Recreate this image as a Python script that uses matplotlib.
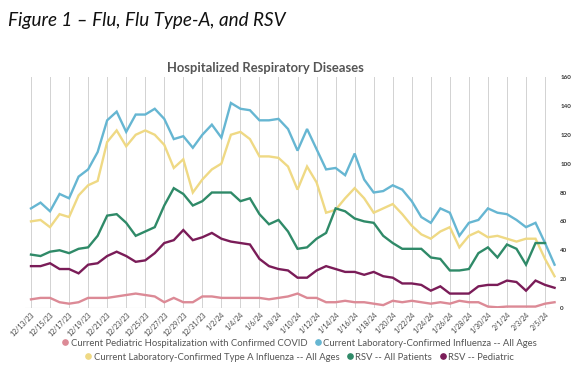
import numpy as np
import matplotlib
matplotlib.use("Agg")
import matplotlib.pyplot as plt
from matplotlib.lines import Line2D

# 데이터 (12/13/23 ~ 2/6/24, 일별)
covid_ped = [6, 7, 7, 4, 3, 4, 7, 7, 7, 8, 9, 10, 9, 8, 4, 7, 4, 4, 8, 8,
             7, 7, 7, 7, 7, 6, 7, 8, 10, 7, 7, 4, 4, 5, 4, 4, 3, 2, 5, 4,
             5, 4, 3, 4, 3, 5, 4, 4, 1, 0.5, 1, 1, 1, 1, 3, 4]
flu_all = [69, 73, 67, 79, 76, 91, 96, 108, 130, 136, 122, 134, 134, 138, 131, 117, 119, 111, 120, 127,
           118, 142, 138, 137, 130, 130, 131, 124, 109, 124, 110, 96, 97, 92, 107, 89, 80, 81, 85, 82,
           74, 63, 59, 69, 66, 50, 59, 61, 69, 66, 65, 61, 56, 59, 45, 30]
flu_a = [60, 61, 56, 65, 63, 78, 85, 88, 115, 123, 112, 120, 123, 120, 113, 97, 103, 80, 89, 96,
         100, 120, 122, 117, 105, 105, 104, 98, 82, 98, 87, 66, 68, 76, 83, 76, 66, 69, 72, 65,
         57, 51, 48, 53, 56, 42, 50, 53, 49, 50, 48, 46, 48, 48, 34, 22]
rsv_all = [37, 36, 39, 40, 38, 41, 42, 50, 64, 65, 59, 50, 53, 56, 71, 83, 79, 71, 74, 80,
           80, 80, 74, 76, 65, 58, 61, 53, 41, 42, 48, 52, 69, 67, 62, 60, 59, 50, 45, 41,
           41, 41, 35, 34, 26, 26, 27, 38, 42, 35, 44, 41, 30, 45, 45, np.nan]
rsv_ped = [29, 29, 31, 27, 27, 24, 30, 31, 36, 39, 36, 32, 33, 38, 45, 47, 54, 47, 49, 52,
           48, 46, 45, 44, 34, 29, 27, 26, 21, 21, 26, 29, 27, 25, 25, 23, 25, 22, 21, 17,
           17, 16, 12, 15, 10, 10, 10, 15, 16, 16, 19, 18, 12, 19, 16, 14]

tick_labels = ["12/13/23", "12/15/23", "12/17/23", "12/19/23", "12/21/23", "12/23/23", "12/25/23",
               "12/27/23", "12/29/23", "12/31/23", "1/2/24", "1/4/24", "1/6/24", "1/8/24",
               "1/10/24", "1/12/24", "1/14/24", "1/16/24", "1/18/24", "1/20/24", "1/22/24",
               "1/24/24", "1/26/24", "1/28/24", "1/30/24", "2/1/24", "2/3/24", "2/5/24"]

series = [
    ("Current Pediatric Hospitalization with Confirmed COVID", covid_ped, "#dc8a96"),
    ("Current Laboratory-Confirmed Influenza -- All Ages", flu_all, "#66b6d2"),
    ("Current Laboratory-Confirmed Type A Influenza -- All Ages", flu_a, "#efd984"),
    ("RSV -- All Patients", rsv_all, "#2f8a68"),
    ("RSV -- Pediatric", rsv_ped, "#7a1c58"),
]

x = np.arange(len(flu_all))
ticks = np.arange(0, len(x), 2)

# ================== 그래프 ==================
fig = plt.figure(figsize=(5.8, 3.69), dpi=100)
ax = fig.add_axes([0.0431, 0.1653, 0.9155, 0.626])

for name, vals, col in series:
    ax.plot(x, vals, color=col, linewidth=1.7, label=name, solid_joinstyle="miter")

ax.set_xlim(-0.63, 55.15)
ax.set_ylim(0, 160)

# 세로 격자선
for t in ticks:
    ax.axvline(t, color="#d2d2d2", linewidth=0.7, zorder=0)
ax.axhline(0, color="#d2d2d2", linewidth=0.8, zorder=0)

for s in ax.spines.values():
    s.set_visible(False)

ax.set_xticks(ticks)
ax.set_xticklabels(tick_labels, rotation=45, ha="right", rotation_mode="anchor",
                   fontsize=5, color="#444444", family="Lato")
ax.tick_params(axis="x", length=0, pad=2)

ax.yaxis.tick_right()
ax.set_yticks(np.arange(0, 161, 20))
ax.set_yticklabels([str(v) for v in range(0, 161, 20)], fontsize=4.5,
                   fontweight="bold", color="#333333", family="Lato")
ax.tick_params(axis="y", length=0, pad=3)

# 제목
fig.text(0.013, 0.945, "Figure 1 \u2013 Flu, Flu Type-A, and RSV", fontsize=13.6,
         style="italic", family="Lato", color="#111111", va="center", ha="left")
fig.text(0.457, 0.815, "Hospitalized Respiratory Diseases", fontsize=9.4,
         fontweight="bold", family="Lato", color="#555555", va="center", ha="center")

# 범례 (두 줄)
handles = [Line2D([], [], marker="o", linestyle="none", markersize=3.8,
                  markerfacecolor=c, markeredgecolor=c) for _, _, c in series]
names = [n for n, _, _ in series]
leg_kw = dict(frameon=False, handletextpad=0.1, columnspacing=0.6,
              borderpad=0, handlelength=1.0, labelcolor="#555555",
              prop={"family": "Lato", "size": 6.8})
fig.legend(handles[:2], names[:2], ncol=2, loc="center", bbox_to_anchor=(0.515, 0.07), **leg_kw)
fig.legend(handles[2:], names[2:], ncol=3, loc="center", bbox_to_anchor=(0.515, 0.032), **leg_kw)

plt.savefig("out.png", dpi=100)
